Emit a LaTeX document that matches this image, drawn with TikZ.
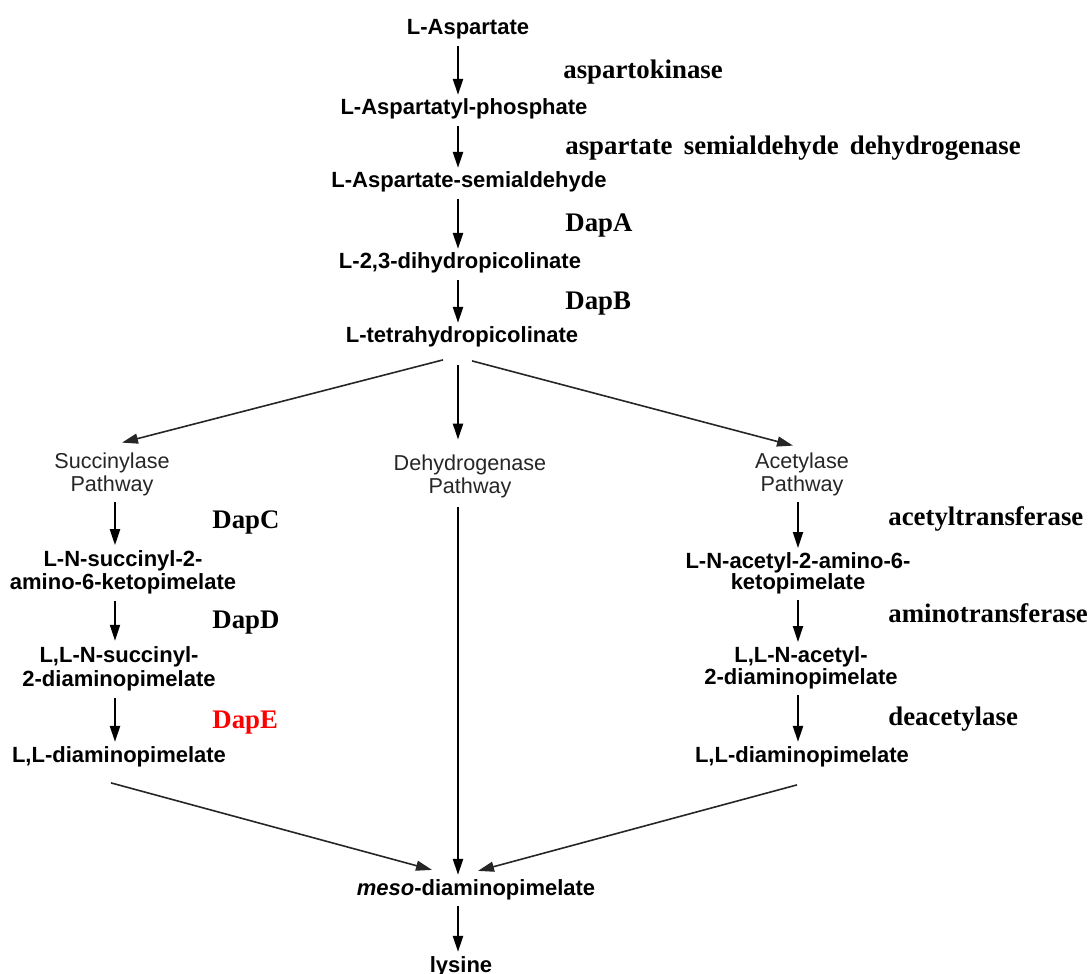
\documentclass[tikz,border=0pt]{standalone}
\usepackage{fontspec}
\setmainfont{Liberation Serif}
\newfontfamily\arialf{Liberation Sans}
\usetikzlibrary{arrows.meta,calc}
\newcommand\tl[1]{\begin{tabular}[t]{@{}c@{}}#1\end{tabular}}
\begin{document}
\begin{tikzpicture}[x=0.5pt,y=-0.5pt,
  cpd/.style={anchor=base, inner sep=0pt, outer sep=2pt,
    font=\arialf\bfseries\fontsize{11}{11.5}\selectfont},
  pathw/.style={anchor=base, inner sep=0pt, outer sep=2pt, text=black!85,
    font=\arialf\fontsize{10.8}{11.7}\selectfont},
  enz/.style={anchor=base west, inner sep=0pt,
    font=\bfseries\fontsize{13.4}{14}\selectfont},
  arr/.style={-{Triangle[length=8pt,width=5pt]}, line width=1.05pt},
  diag/.style={-{Triangle[length=8pt,width=5pt]}, line width=0.8pt, draw=black!85, fill=black!85}]
\useasboundingbox (0,0) rectangle (1089,974);
% column coordinates
\coordinate (colM) at (458,0);
\coordinate (colL) at (115,0);
\coordinate (colR) at (798,0);
% main column
\node[cpd] (asp)  at (468,35)  {\tl{L-Aspartate}};
\node[cpd] (aspp) at (464,115) {\tl{L-Aspartatyl-phosphate}};
\node[cpd] (asa)  at (469,188) {\tl{L-Aspartate-semialdehyde}};
\node[cpd] (dhp)  at (460,269) {\tl{L-2,3-dihydropicolinate}};
\node[cpd] (thp)  at (462,343) {\tl{L-tetrahydropicolinate}};
% pathways
\node[pathw] (succ) at (112,468) {\tl{Succinylase\\Pathway}};
\node[pathw] (dehy) at (470,470) {\tl{Dehydrogenase\\Pathway}};
\node[pathw] (acet) at (802,468) {\tl{Acetylase\\Pathway}};
% left column
\node[cpd, font=\arialf\bfseries\fontsize{11}{12}\selectfont] (nsk) at (123,566) {\tl{L-N-succinyl-2-\\amino-6-ketopimelate}};
\node[cpd, font=\arialf\bfseries\fontsize{11}{12.3}\selectfont] (nsd) at (119,662) {\tl{L,L-N-succinyl-\\2-diaminopimelate}};
\node[cpd] (lldL) at (119,762) {\tl{L,L-diaminopimelate}};
% right column
\node[cpd, font=\arialf\bfseries\fontsize{11}{10}\selectfont] (nak) at (798,568) {\tl{L-N-acetyl-2-amino-6-\\ketopimelate}};
\node[cpd, font=\arialf\bfseries\fontsize{11}{10.5}\selectfont] (nad) at (801,662) {\tl{L,L-N-acetyl-\\2-diaminopimelate}};
\node[cpd] (lldR) at (802,762) {\tl{L,L-diaminopimelate}};
% bottom
\node[cpd] (meso) at (476,895) {\tl{\textit{meso}-diaminopimelate}};
\node[cpd] (lys)  at (461,972) {\tl{lysine}};
% enzymes
\node[enz] (e1) at (563,79)  {aspartokinase};
\node[enz] (e2) at (565,155) {aspartate\hspace{0.17em} semialdehyde\hspace{0.17em} dehydrogenase};
\node[enz] (e3) at (565,232) {DapA};
\node[enz] (e4) at (565,310) {DapB};
\node[enz] (e5) at (212,528) {DapC};
\node[enz] (e6) at (212,628) {DapD};
\node[enz, text=red] (e7) at (212,728) {DapE};
\node[enz] (e8) at (888,525) {acetyltransferase};
\node[enz] (e9) at (888,622) {aminotransferase};
\node[enz] (e10) at (888,725) {deacetylase};
% main arrows
\draw[arr] (asp.south -| colM) -- (aspp.north -| colM);
\draw[arr] (aspp.south -| colM) -- (asa.north -| colM);
\draw[arr] (asa.south -| colM) -- (dhp.north -| colM);
\draw[arr] (dhp.south -| colM) -- (thp.north -| colM);
% branches
\draw[diag] ($(thp.south)+(-19,6)$) -- ($(succ.north)+(10,-5)$);
\draw[arr] ($(thp.south -| colM)+(0,11)$) -- ($(dehy.north -| colM)+(0,-10)$);
\draw[diag] ($(thp.south)+(10,7)$) -- ($(acet.north)+(-9,-2)$);
% left column arrows
\draw[arr] (succ.south -| colL) -- (nsk.north -| colL);
\draw[arr] (nsk.south -| colL) -- (nsd.north -| colL);
\draw[arr] (nsd.south -| colL) -- (lldL.north -| colL);
% right column arrows
\draw[arr] (acet.south -| colR) -- (nak.north -| colR);
\draw[arr] (nak.south -| colR) -- (nad.north -| colR);
\draw[arr] (nad.south -| colR) -- (lldR.north -| colR);
% converging
\draw[diag] ($(lldL.south)+(-8,10)$) -- ($(meso.north)+(-44,-5)$);
\draw[arr] ($(dehy.south -| colM)+(0,3)$) -- (meso.north -| colM);
\draw[diag] ($(lldR.south)+(-5,12)$) -- ($(meso.north)+(2,-4)$);
\draw[arr] (meso.south -| colM) -- (lys.north -| colM);
\end{tikzpicture}
\end{document}
